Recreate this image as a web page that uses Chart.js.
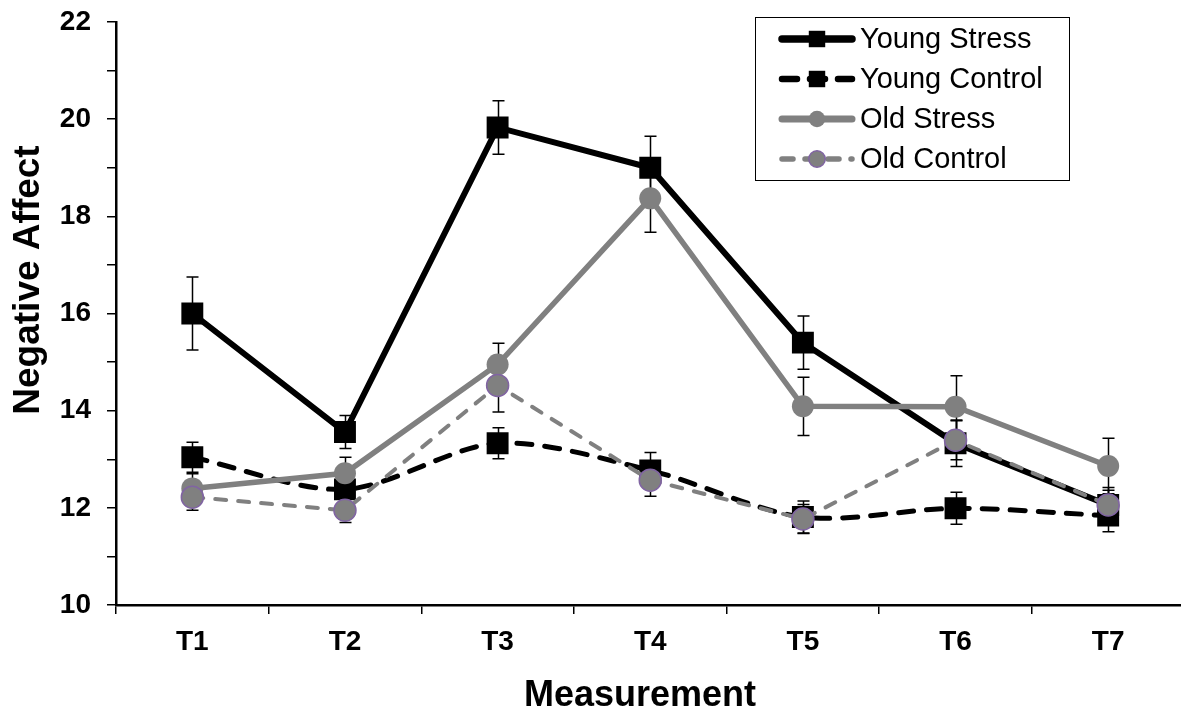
<!DOCTYPE html>
<html>
<head>
<meta charset="utf-8">
<script src="https://cdn.jsdelivr.net/npm/chart.js@4.4.0/dist/chart.umd.min.js"></script>
<style>
  html, body { margin: 0; padding: 0; background: #fff; overflow: hidden; }
  #wrap { position: relative; width: 1200px; height: 713px; }
</style>
</head>
<body>
<div id="wrap"><canvas id="c" width="1200" height="713"></canvas></div>
<script>
const categories = ['T1', 'T2', 'T3', 'T4', 'T5', 'T6', 'T7'];
const seriesNames = ['Young Stress', 'Young Control', 'Old Stress', 'Old Control'];
const xTitle = 'Measurement';
const yTitle = 'Negative Affect';

const youngStress    = [16.0, 13.56, 19.83, 19.0, 15.4, 13.33, 12.06];
const youngStressErr = [0.75, 0.34, 0.55, 0.65, 0.55, 0.48, 0.36];

const youngControl    = [13.04, 12.38, 13.33, 12.77, 11.81, 11.99, 11.84];
const youngControlErr = [0.31, 0.30, 0.32, 0.37, 0.33, 0.33, 0.33];

const oldStress    = [12.40, 12.71, 14.95, 18.37, 14.09, 14.08, 12.86];
const oldStressErr = [0.30, 0.33, 0.44, 0.70, 0.60, 0.64, 0.57];

const oldControl    = [12.22, 11.95, 14.52, 12.57, 11.77, 13.39, 12.06];
const oldControlErr = [0.27, 0.25, 0.55, 0.33, 0.30, 0.40, 0.30];

const yTickMin = 10, yTickMax = 22, yTickStep = 1;

const FONT = "'Liberation Sans', Arial, sans-serif";
const GRAY = '#808080';
const PURPLE = '#8064A2';

const errorBarPlugin = {
  id: 'errorBars',
  beforeDatasetsDraw(chart) {
    const ctx = chart.ctx;
    const y = chart.scales.y;
    ctx.save();
    ctx.strokeStyle = '#000';
    ctx.lineWidth = 1.5;
    chart.data.datasets.forEach((ds, i) => {
      if (!ds.errors) return;
      const meta = chart.getDatasetMeta(i);
      meta.data.forEach((pt, j) => {
        const v = ds.data[j], e = ds.errors[j];
        const px = Math.round(pt.x) + 0.5;
        const yTop = y.getPixelForValue(v + e);
        const yBot = y.getPixelForValue(v - e);
        ctx.beginPath();
        ctx.moveTo(px, yTop); ctx.lineTo(px, yBot);
        ctx.moveTo(px - 6, yTop); ctx.lineTo(px + 6, yTop);
        ctx.moveTo(px - 6, yBot); ctx.lineTo(px + 6, yBot);
        ctx.stroke();
      });
    });
    ctx.restore();
  }
};

const axisTitlePlugin = {
  id: 'axisTitles',
  afterDraw(chart) {
    const ctx = chart.ctx;
    ctx.save();
    ctx.fillStyle = '#000';
    ctx.textAlign = 'center';
    ctx.textBaseline = 'middle';
    ctx.font = 'bold 36px ' + FONT;
    ctx.fillText(xTitle, 640, 696);
    ctx.translate(29, 280);
    ctx.rotate(-Math.PI / 2);
    ctx.font = 'bold 37px ' + FONT;
    ctx.fillText(yTitle, 0, 0);
    ctx.restore();
  }
};

const boxLegendPlugin = {
  id: 'boxLegend',
  afterDraw(chart) {
    const ctx = chart.ctx;
    const bx = 755, by = 17, bw = 314, bh = 163;
    ctx.save();
    ctx.fillStyle = '#fff';
    ctx.fillRect(bx, by, bw, bh);
    ctx.strokeStyle = '#000';
    ctx.lineWidth = 1;
    ctx.strokeRect(bx + 0.5, by + 0.5, bw, bh);
    chart.data.datasets.forEach((ds, i) => {
      const cy = 39 + i * 40;
      const x0 = 782, x1 = 852, xm = 817;
      ctx.save();
      ctx.strokeStyle = ds.borderColor;
      ctx.lineWidth = ds.borderWidth + 1.5;
      ctx.lineCap = 'round';
      ctx.setLineDash(ds.borderDash || []);
      ctx.beginPath();
      ctx.moveTo(x0, cy); ctx.lineTo(x1, cy);
      ctx.stroke();
      ctx.restore();
      ctx.save();
      ctx.fillStyle = ds.pointBackgroundColor;
      ctx.strokeStyle = ds.pointBorderColor;
      ctx.lineWidth = ds.pointBorderWidth;
      Chart.helpers.drawPoint(ctx, {
        pointStyle: ds.pointStyle,
        radius: ds.pointRadius * 0.75,
        rotation: 0,
        borderWidth: ds.pointBorderWidth
      }, xm, cy);
      ctx.restore();
      ctx.fillStyle = '#000';
      ctx.font = '29px ' + FONT;
      ctx.textBaseline = 'middle';
      ctx.textAlign = 'left';
      ctx.fillText(ds.label, 860, cy + 1);
    });
    ctx.restore();
  }
};

new Chart(document.getElementById('c'), {
  type: 'line',
  data: {
    labels: categories,
    datasets: [
      {
        label: seriesNames[0],
        data: youngStress,
        errors: youngStressErr,
        borderColor: '#000',
        borderWidth: 6,
        pointStyle: 'rect',
        pointRadius: 15.5,
        pointBackgroundColor: '#000',
        pointBorderColor: '#000',
        pointBorderWidth: 0,
        tension: 0,
        order: 4
      },
      {
        label: seriesNames[1],
        data: youngControl,
        errors: youngControlErr,
        borderColor: '#000',
        borderWidth: 5,
        borderDash: [15, 13],
        borderCapStyle: 'round',
        pointStyle: 'rect',
        pointRadius: 15.5,
        pointBackgroundColor: '#000',
        pointBorderColor: '#000',
        pointBorderWidth: 0,
        tension: 0.3,
        order: 3
      },
      {
        label: seriesNames[2],
        data: oldStress,
        errors: oldStressErr,
        borderColor: GRAY,
        borderWidth: 5.5,
        pointStyle: 'circle',
        pointRadius: 11,
        pointBackgroundColor: GRAY,
        pointBorderColor: GRAY,
        pointBorderWidth: 0,
        tension: 0,
        order: 2
      },
      {
        label: seriesNames[3],
        data: oldControl,
        errors: oldControlErr,
        borderColor: GRAY,
        borderWidth: 4,
        borderDash: [11, 12],
        borderCapStyle: 'round',
        pointStyle: 'circle',
        pointRadius: 11,
        pointBackgroundColor: GRAY,
        pointBorderColor: PURPLE,
        pointBorderWidth: 1.5,
        tension: 0,
        order: 1
      }
    ]
  },
  options: {
    responsive: false,
    animation: false,
    devicePixelRatio: 1,
    layout: { padding: { top: 22, right: 0, left: 0, bottom: 0 } },
    plugins: { legend: { display: false }, tooltip: { enabled: false } },
    scales: {
      x: {
        type: 'category',
        offset: true,
        afterFit(s) { s.height = 108; },
        grid: { display: true, drawOnChartArea: false, offset: true, tickLength: 9, color: '#000', lineWidth: 1.5 },
        border: { display: true, color: '#000', width: 2.5 },
        ticks: { color: '#000', font: { family: FONT, size: 28, weight: 'bold' }, padding: 11, maxRotation: 0, autoSkip: false },
        title: { display: false }
      },
      y: {
        min: yTickMin,
        max: yTickMax,
        afterFit(s) { s.width = 116; s.paddingTop = 0; s.paddingBottom = 0; },
        grid: { display: true, drawOnChartArea: false, tickLength: 9, color: '#000', lineWidth: 1.5 },
        border: { display: true, color: '#000', width: 2.5 },
        ticks: {
          stepSize: yTickStep,
          color: '#000',
          font: { family: FONT, size: 28, weight: 'bold' },
          padding: 16,
          callback: (v) => (v % 2 === 0 ? String(v) : '')
        },
        title: { display: false }
      }
    }
  },
  plugins: [errorBarPlugin, axisTitlePlugin, boxLegendPlugin]
});
</script>
</body>
</html>
